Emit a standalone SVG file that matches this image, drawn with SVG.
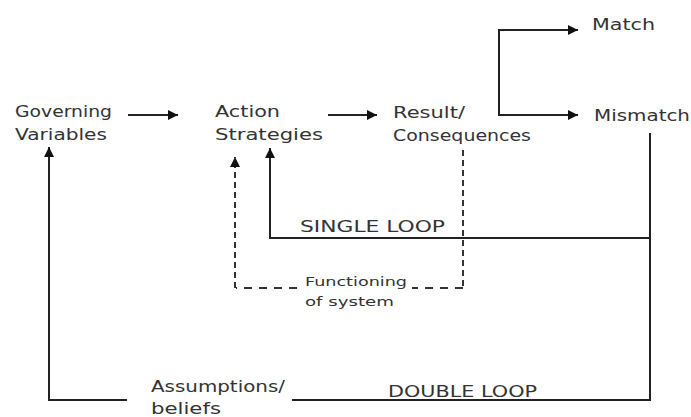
<svg xmlns="http://www.w3.org/2000/svg" width="691" height="417" viewBox="0 0 691 417">
<defs>
<marker id="ah" viewBox="0 0 10 10" refX="10" refY="5" markerWidth="10" markerHeight="10" markerUnits="userSpaceOnUse" orient="auto">
<path d="M0,0 L10,5 L0,10 Z" fill="#111"/>
</marker>
<style>
text{font-family:"DejaVu Sans","Liberation Sans",sans-serif;fill:#333}
.n{font-size:15px}
.s{font-size:12px}
.c{fill:none;stroke:#222;stroke-width:2}
.d{fill:none;stroke:#333;stroke-width:2;stroke-dasharray:6,4}
.dh{fill:none;stroke:#333;stroke-width:2;stroke-dasharray:8,7}
</style>
</defs>
<rect width="691" height="417" fill="#fff"/>
<g id="governing">
<text class="n" x="15" y="117" textLength="97" lengthAdjust="spacingAndGlyphs">Governing</text>
<text class="n" x="15" y="140" textLength="92" lengthAdjust="spacingAndGlyphs">Variables</text>
</g>
<g id="action">
<text class="n" x="215" y="117" textLength="65" lengthAdjust="spacingAndGlyphs">Action</text>
<text class="n" x="215" y="140" textLength="108" lengthAdjust="spacingAndGlyphs">Strategies</text>
</g>
<g id="result">
<text class="n" x="393" y="118" textLength="72" lengthAdjust="spacingAndGlyphs">Result/</text>
<text class="n" x="393" y="141" textLength="138" lengthAdjust="spacingAndGlyphs">Consequences</text>
</g>
<g id="match">
<text class="n" x="592" y="30" textLength="63" lengthAdjust="spacingAndGlyphs">Match</text>
</g>
<g id="mismatch">
<text class="n" x="594" y="121" textLength="96" lengthAdjust="spacingAndGlyphs">Mismatch</text>
</g>
<g id="assumptions">
<text class="n" x="151" y="392" textLength="134" lengthAdjust="spacingAndGlyphs">Assumptions/</text>
<text class="n" x="151" y="414" textLength="70" lengthAdjust="spacingAndGlyphs">beliefs</text>
</g>
<g id="functioning">
<text class="s" x="305" y="286" textLength="102" lengthAdjust="spacingAndGlyphs">Functioning</text>
<text class="s" x="305" y="306" textLength="89" lengthAdjust="spacingAndGlyphs">of system</text>
</g>
<g id="labels">
<text class="n" x="300" y="232" textLength="145" lengthAdjust="spacingAndGlyphs">SINGLE LOOP</text>
<text class="n" x="388" y="397" textLength="149" lengthAdjust="spacingAndGlyphs">DOUBLE LOOP</text>
</g>
<g id="connectors">
<line class="c" x1="128" y1="115" x2="178" y2="115" marker-end="url(#ah)"/>
<line class="c" x1="328" y1="115" x2="377" y2="115" marker-end="url(#ah)"/>
<line class="c" x1="498" y1="30" x2="578" y2="30" marker-end="url(#ah)"/>
<path class="c" d="M499,30 V115 H578" marker-end="url(#ah)"/>
<path class="c" d="M650,133 V238 H270 V148" marker-end="url(#ah)"/>
<path class="c" d="M650,238 V400 H292"/>
<path class="c" d="M127,400 H49 V147" marker-end="url(#ah)"/>
<path class="d" d="M463,150 V288"/>
<path class="dh" d="M463,288 H412"/>
<path class="dh" d="M297,288 H236"/>
<path class="d" d="M235,288 V157" marker-end="url(#ah)"/>
</g>
</svg>
